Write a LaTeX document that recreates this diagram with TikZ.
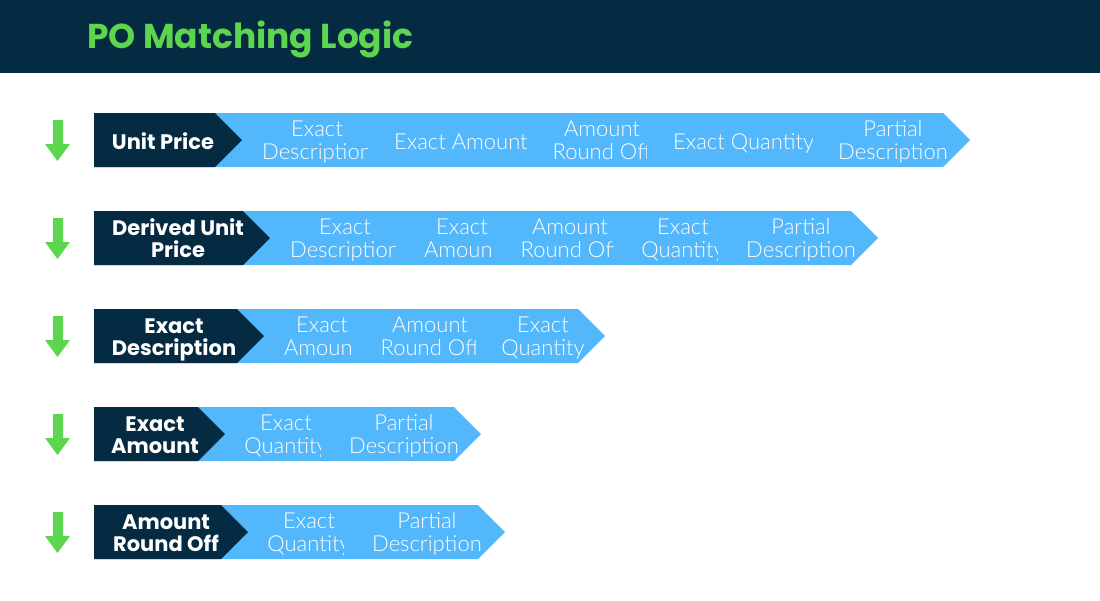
\documentclass[tikz,border=0pt]{standalone}
\usepackage{fontspec}
\newfontfamily\headfont{Poppins}
\newfontfamily\lightfont{Lato Light}
\definecolor{navy}{HTML}{052B42}
\definecolor{skyblue}{HTML}{53B7FB}
\definecolor{titlegreen}{HTML}{5DD64F}
\definecolor{arrowgreen}{HTML}{5DD64F}
\tikzset{
  darklbl/.style={text=white, font=\headfont\bfseries\fontsize{21}{22}\selectfont, align=center, inner sep=0pt, anchor=base},
  bluelbl/.style={text=white, font=\lightfont\fontsize{22}{23}\selectfont, align=center, inner sep=0pt, anchor=base},
  bluelblone/.style={text=white, font=\lightfont\fontsize{22}{23}\selectfont, inner sep=0pt, anchor=base west},
}
% #1 name, #2 y centre, #3 dark right, #4 blue right, #5 label x, #6 label, #7 baseline offset of last line
\newcommand{\poRow}[7]{%
  \fill[skyblue] (94,#2-27) -- (#4,#2-27) -- (#4+27,#2) -- (#4,#2+27) -- (94,#2+27) -- cycle;
  \fill[navy] (94,#2-27) -- (#3,#2-27) -- (#3+27,#2) -- (#3,#2+27) -- (94,#2+27) -- cycle;
  \node[darklbl] (#1) at (#5,#2+#7) {#6};
  \fill[arrowgreen] (53,#2-20) -- (63,#2-20) -- (63,#2+4) -- (70,#2+4) -- (57.5,#2+21) -- (45,#2+4) -- (53,#2+4) -- cycle;
}
% two-line blue label: #1 name, #2 x centre, #3 y centre, #4 clip right, #5 text
\newcommand{\blTwo}[5]{%
  \begin{scope}
    \clip (#2-90,#3-27) rectangle (#4,#3+27);
    \node[bluelbl] (#1) at (#2,#3+19) {#5};
  \end{scope}
}
% one-line blue label: #1 name, #2 x left, #3 y centre, #4 clip right, #5 text
\newcommand{\blOne}[5]{%
  \begin{scope}
    \clip (#2-10,#3-27) rectangle (#4,#3+27);
    \node[bluelblone] (#1) at (#2,#3+9) {#5};
  \end{scope}
}
\begin{document}
\begin{tikzpicture}[x=1pt,y=-1pt]
\useasboundingbox (0,0) rectangle (1100,600);
\fill[navy] (0,0) rectangle (1100,73);
\node[anchor=base west, text=titlegreen, font=\headfont\bfseries\fontsize{34.5}{35}\selectfont, inner sep=0pt] (title) at (87,48) {PO Matching Logic};

% Row 1
\poRow{r1}{140}{215}{943}{163}{Unit Price}{9}
\blTwo{r1a}{317}{140}{367}{Exact\\Description}
\blOne{r1b}{394}{140}{530}{Exact Amount}
\blTwo{r1c}{602}{140}{646}{Amount\\Round Off}
\blOne{r1d}{673}{140}{812}{Exact Quantity}
\blTwo{r1e}{893}{140}{1000}{Partial\\Description}

% Row 2
\poRow{r2}{238}{243}{851}{178}{Derived Unit\\Price}{19}
\blTwo{r2a}{345}{238}{395}{Exact\\Description}
\blTwo{r2b}{462}{238}{490}{Exact\\Amount}
\blTwo{r2c}{570}{238}{613}{Amount\\Round Off}
\blTwo{r2d}{683}{238}{717}{Exact\\Quantity}
\blTwo{r2e}{801}{238}{1000}{Partial\\Description}

% Row 3
\poRow{r3}{336}{237}{578}{174}{Exact\\Description}{19}
\blTwo{r3a}{322}{336}{350}{Exact\\Amount}
\blTwo{r3b}{430}{336}{475}{Amount\\Round Off}
\blTwo{r3c}{543}{336}{1000}{Exact\\Quantity}

% Row 4
\poRow{r4}{434}{198}{454}{155}{Exact\\Amount}{19}
\blTwo{r4a}{286}{434}{320}{Exact\\Quantity}
\blTwo{r4b}{404}{434}{1000}{Partial\\Description}

% Row 5
\poRow{r5}{532}{221}{478}{166}{Amount\\Round Off}{19}
\blTwo{r5a}{309}{532}{343}{Exact\\Quantity}
\blTwo{r5b}{427}{532}{1000}{Partial\\Description}
\end{tikzpicture}
\end{document}
